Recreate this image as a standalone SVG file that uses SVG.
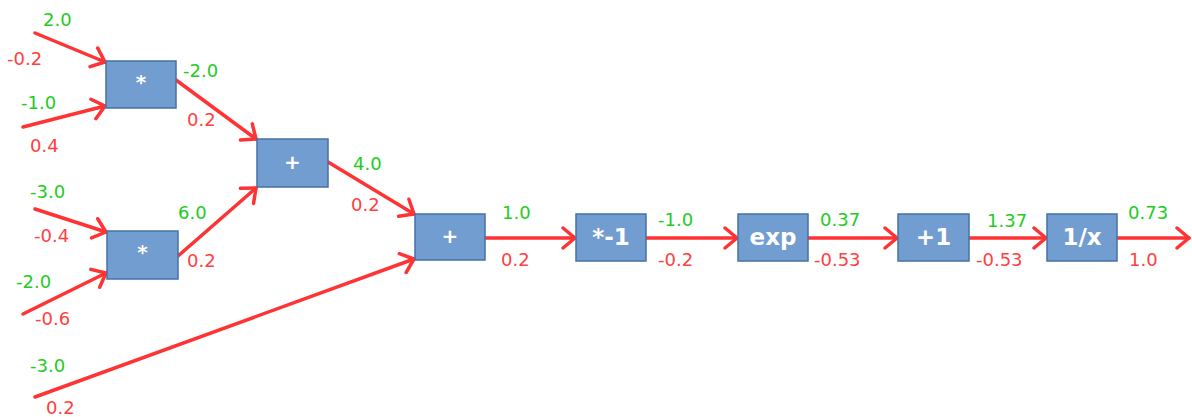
<svg xmlns="http://www.w3.org/2000/svg" width="1192" height="417" viewBox="0 0 1192 417">
  <style>
    .node rect { fill: #729dd0; stroke: #4672a4; stroke-width: 1.5; }
    .node text { font-family: "DejaVu Sans", sans-serif; font-weight: bold; fill: #ffffff; text-anchor: middle; dominant-baseline: central; }
    .op { font-size: 23px; }
    .sym { font-size: 20px; }
    .wire { stroke: #ff3333; stroke-width: 3.5; fill: none; stroke-linecap: round; marker-end: url(#head); }
    .lbl { font-family: "DejaVu Sans", sans-serif; font-size: 18px; }
    .fwd { fill: #22cc22; }
    .grad { fill: #ff4040; }
  </style>
  <defs>
    <marker id="head" viewBox="0 0 16 24" refX="14" refY="12" markerWidth="16" markerHeight="24" markerUnits="userSpaceOnUse" orient="auto">
      <path d="M2,2 L14,12 L2,22" fill="none" stroke="#ff3333" stroke-width="3.5" stroke-linecap="round" stroke-linejoin="round"/>
    </marker>
  </defs>

  <rect width="1192" height="417" fill="#ffffff"/>

  <!-- connectors -->
  <g id="connectors">
    <line class="wire" x1="35" y1="33" x2="105" y2="62"/>
    <line class="wire" x1="23" y1="127" x2="105" y2="106"/>
    <line class="wire" x1="176" y1="80" x2="256" y2="139"/>
    <line class="wire" x1="35" y1="209" x2="106" y2="232"/>
    <line class="wire" x1="23" y1="314" x2="106" y2="273"/>
    <line class="wire" x1="178" y1="256" x2="256" y2="188"/>
    <line class="wire" x1="328" y1="162" x2="414" y2="214"/>
    <line class="wire" x1="35" y1="397" x2="414" y2="259"/>
    <line class="wire" x1="485" y1="238" x2="575" y2="238"/>
    <line class="wire" x1="646" y1="238" x2="737" y2="238"/>
    <line class="wire" x1="808" y1="238" x2="897" y2="238"/>
    <line class="wire" x1="969" y1="238" x2="1046" y2="238"/>
    <line class="wire" x1="1117" y1="238" x2="1189" y2="238"/>
  </g>

  <!-- nodes -->
  <g id="mul1" class="node">
    <rect x="106" y="61" width="70" height="47"/>
    <text class="sym" x="141" y="82">*</text>
  </g>
  <g id="mul2" class="node">
    <rect x="107" y="231" width="71" height="48"/>
    <text class="sym" x="142.5" y="252">*</text>
  </g>
  <g id="add1" class="node">
    <rect x="257" y="139" width="71" height="48"/>
    <text class="sym" x="292.5" y="162">+</text>
  </g>
  <g id="add2" class="node">
    <rect x="415" y="214" width="70" height="46"/>
    <text class="sym" x="450" y="236">+</text>
  </g>
  <g id="neg" class="node">
    <rect x="576" y="214" width="70" height="47"/>
    <text class="op" x="611" y="237">*-1</text>
  </g>
  <g id="exp" class="node">
    <rect x="738" y="214" width="70" height="47"/>
    <text class="op" x="773" y="237">exp</text>
  </g>
  <g id="inc" class="node">
    <rect x="898" y="214" width="71" height="47"/>
    <text class="op" x="933.5" y="237">+1</text>
  </g>
  <g id="recip" class="node">
    <rect x="1047" y="214" width="70" height="47"/>
    <text class="op" x="1082" y="237">1/x</text>
  </g>

  <!-- forward values (green) and gradients (red) -->
  <g id="labels" class="lbl">
    <text class="fwd" x="43" y="26">2.0</text>
    <text class="grad" x="7" y="65">-0.2</text>
    <text class="fwd" x="21" y="109">-1.0</text>
    <text class="grad" x="30" y="152">0.4</text>
    <text class="fwd" x="183" y="77">-2.0</text>
    <text class="grad" x="187" y="126">0.2</text>
    <text class="fwd" x="30" y="198">-3.0</text>
    <text class="grad" x="34" y="242">-0.4</text>
    <text class="fwd" x="178" y="219">6.0</text>
    <text class="grad" x="187" y="267">0.2</text>
    <text class="fwd" x="16" y="288">-2.0</text>
    <text class="grad" x="35" y="325">-0.6</text>
    <text class="fwd" x="30" y="372">-3.0</text>
    <text class="grad" x="46" y="414">0.2</text>
    <text class="fwd" x="353" y="170">4.0</text>
    <text class="grad" x="351" y="211">0.2</text>
    <text class="fwd" x="502" y="219">1.0</text>
    <text class="grad" x="501" y="266">0.2</text>
    <text class="fwd" x="658" y="226">-1.0</text>
    <text class="grad" x="658" y="266">-0.2</text>
    <text class="fwd" x="820" y="226">0.37</text>
    <text class="grad" x="814" y="266">-0.53</text>
    <text class="fwd" x="987" y="227">1.37</text>
    <text class="grad" x="976" y="266">-0.53</text>
    <text class="fwd" x="1128" y="219">0.73</text>
    <text class="grad" x="1129" y="266">1.0</text>
  </g>
</svg>
